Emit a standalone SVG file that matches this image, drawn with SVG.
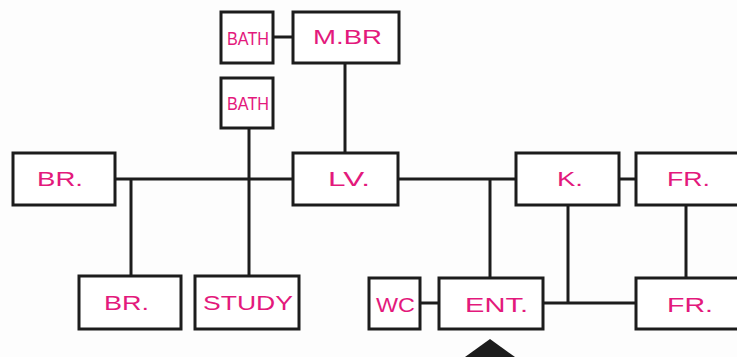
<svg xmlns="http://www.w3.org/2000/svg" width="737" height="357" viewBox="0 0 737 357">
<style>
.box{fill:#ffffff;stroke:#1c1c1c;stroke-width:3}
.ln{stroke:#1c1c1c;stroke-width:3;fill:none}
.t{fill:#e3197c;font-family:"Liberation Sans",Arial,sans-serif;font-size:21px}
.s{font-size:18px}
</style>
<rect width="737" height="357" fill="#fdfdfd"/>
<g id="connectors">
<line class="ln" x1="273" y1="37" x2="293" y2="37"/>
<line class="ln" x1="345" y1="63" x2="345" y2="153"/>
<line class="ln" x1="249" y1="128" x2="249" y2="276"/>
<line class="ln" x1="115" y1="179" x2="293" y2="179"/>
<line class="ln" x1="131" y1="179" x2="131" y2="276"/>
<line class="ln" x1="398" y1="179" x2="516" y2="179"/>
<line class="ln" x1="490" y1="179" x2="490" y2="278"/>
<line class="ln" x1="619" y1="179" x2="636" y2="179"/>
<line class="ln" x1="686" y1="205" x2="686" y2="278"/>
<line class="ln" x1="568" y1="205" x2="568" y2="303"/>
<line class="ln" x1="420" y1="303" x2="439" y2="303"/>
<line class="ln" x1="543" y1="303" x2="636" y2="303"/>
</g>
<g id="bath1"><rect class="box" x="221" y="12" width="52" height="51"/><text class="t s" x="227" y="45" textLength="42" lengthAdjust="spacingAndGlyphs">BATH</text></g>
<g id="mbr"><rect class="box" x="293" y="12" width="106" height="51"/><text class="t" x="313" y="44" textLength="69" lengthAdjust="spacingAndGlyphs">M.BR</text></g>
<g id="bath2"><rect class="box" x="221" y="78" width="52" height="50"/><text class="t s" x="227" y="110" textLength="42" lengthAdjust="spacingAndGlyphs">BATH</text></g>
<g id="br1"><rect class="box" x="13" y="153" width="102" height="52"/><text class="t" x="37" y="186" textLength="46" lengthAdjust="spacingAndGlyphs">BR.</text></g>
<g id="lv"><rect class="box" x="293" y="153" width="105" height="52"/><text class="t" x="328" y="186" textLength="42" lengthAdjust="spacingAndGlyphs">LV.</text></g>
<g id="k"><rect class="box" x="516" y="153" width="103" height="52"/><text class="t" x="557" y="186" textLength="26" lengthAdjust="spacingAndGlyphs">K.</text></g>
<g id="fr1"><rect class="box" x="636" y="153" width="110" height="52"/><text class="t" x="667" y="186" textLength="43" lengthAdjust="spacingAndGlyphs">FR.</text></g>
<g id="br2"><rect class="box" x="79" y="276" width="102" height="53"/><text class="t" x="104" y="310" textLength="45" lengthAdjust="spacingAndGlyphs">BR.</text></g>
<g id="study"><rect class="box" x="195" y="276" width="104" height="53"/><text class="t" x="203" y="310" textLength="90" lengthAdjust="spacingAndGlyphs">STUDY</text></g>
<g id="wc"><rect class="box" x="369" y="278" width="51" height="51"/><text class="t" x="376" y="312" textLength="39" lengthAdjust="spacingAndGlyphs">WC</text></g>
<g id="ent"><rect class="box" x="439" y="278" width="104" height="51"/><text class="t" x="465" y="312" textLength="63" lengthAdjust="spacingAndGlyphs">ENT.</text></g>
<g id="fr2"><rect class="box" x="636" y="278" width="110" height="51"/><text class="t" x="667" y="312" textLength="46" lengthAdjust="spacingAndGlyphs">FR.</text></g>
<g id="entry-arrow"><polygon points="465,357 490,339 515,357" fill="#1c1c1c"/></g>
</svg>
